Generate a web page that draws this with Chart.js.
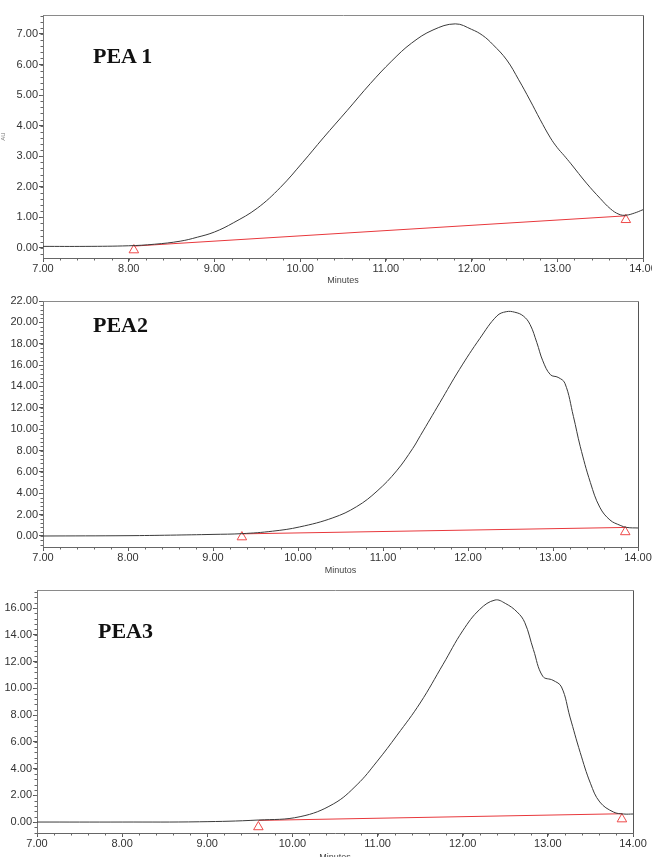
<!DOCTYPE html>
<html>
<head>
<meta charset="utf-8">
<script src="https://cdn.jsdelivr.net/npm/chart.js@4.4.1/dist/chart.umd.min.js"></script>
<style>
  html, body { margin:0; padding:0; background:#fff; width:652px; height:857px; overflow:hidden; }
  .panel { position:absolute; left:0; width:652px; }
  .ttl { position:absolute; font-family:"Liberation Serif","Times New Roman",serif; font-weight:bold; font-size:22px; color:#111; line-height:1; white-space:nowrap; }
</style>
</head>
<body>
<div class="panel" style="top:0;height:290px;"><canvas id="c1"></canvas></div>
<div class="panel" style="top:290px;height:290px;"><canvas id="c2"></canvas></div>
<div class="panel" style="top:580px;height:290px;"><canvas id="c3"></canvas></div>
<div class="ttl" style="left:93px;top:45px;">PEA 1</div>
<div class="ttl" style="left:93px;top:314px;">PEA2</div>
<div class="ttl" style="left:98px;top:620px;">PEA3</div>
<script>
// ---------- shared x axis ----------
const xTicks = [7, 8, 9, 10, 11, 12, 13, 14];

// ---------- PEA 1 ----------
const pea1Time   = [7.0, 7.5, 8.0, 8.3, 8.6, 8.8, 9.0, 9.22, 9.5, 9.77, 10.03, 10.27, 10.55, 10.82, 11.07, 11.3, 11.55, 11.81, 12.0, 12.13, 12.25, 12.41, 12.55, 12.68, 12.8, 12.92, 13.0, 13.08, 13.16, 13.34, 13.5, 13.62, 13.72, 13.8, 13.9, 14.0];
const pea1Signal = [0.05, 0.05, 0.07, 0.12, 0.22, 0.35, 0.52, 0.82, 1.3, 1.98, 2.8, 3.6, 4.5, 5.38, 6.12, 6.7, 7.13, 7.33, 7.15, 6.95, 6.65, 6.15, 5.5, 4.84, 4.2, 3.6, 3.28, 3.02, 2.75, 2.12, 1.62, 1.28, 1.1, 1.07, 1.14, 1.25];
const pea1BaseTime = [8.06, 13.8];
const pea1BaseVal  = [0.06, 1.05];
const pea1MarkVal  = [-0.07, 0.92];
const pea1YTicks = [0, 1, 2, 3, 4, 5, 6, 7];

// ---------- PEA 2 ----------
const pea2Time   = [7.0, 8.0, 8.5, 9.0, 9.34, 9.7, 10.02, 10.41, 10.69, 10.93, 11.16, 11.35, 11.44, 11.67, 11.9, 12.14, 12.34, 12.45, 12.55, 12.65, 12.73, 12.81, 12.88, 12.97, 13.06, 13.14, 13.24, 13.32, 13.44, 13.55, 13.67, 13.79, 13.87, 14.0];
const pea2Signal = [0.0, 0.03, 0.08, 0.15, 0.22, 0.45, 0.85, 1.7, 2.75, 4.2, 6.1, 8.2, 9.4, 12.5, 15.6, 18.5, 20.6, 21.0, 20.95, 20.6, 19.8, 18.1, 16.4, 15.1, 14.85, 14.3, 11.2, 8.4, 5.0, 2.7, 1.5, 1.0, 0.8, 0.75];
const pea2BaseTime = [9.34, 13.85];
const pea2BaseVal  = [0.2, 0.8];
const pea2MarkVal  = [-0.1, 0.38];
const pea2YTicks = [0, 2, 4, 6, 8, 10, 12, 14, 16, 18, 20, 22];

// ---------- PEA 3 ----------
const pea3Time   = [7.0, 8.0, 8.91, 9.6, 10.09, 10.48, 10.76, 10.99, 11.23, 11.5, 11.77, 12.0, 12.2, 12.38, 12.5, 12.64, 12.73, 12.83, 12.94, 13.06, 13.16, 13.26, 13.38, 13.5, 13.61, 13.77, 13.89, 14.0];
const pea3Signal = [0.0, 0.0, 0.02, 0.15, 0.4, 1.35, 2.8, 4.5, 6.5, 8.9, 11.8, 14.3, 15.9, 16.6, 16.35, 15.7, 14.9, 12.9, 10.9, 10.6, 10.1, 7.85, 5.2, 2.9, 1.5, 0.75, 0.6, 0.6];
const pea3BaseTime = [9.6, 13.87];
const pea3BaseVal  = [0.12, 0.62];
const pea3MarkVal  = [-0.37, 0.22];
const pea3YTicks = [0, 2, 4, 6, 8, 10, 12, 14, 16];

const pts = (xs, ys) => xs.map((x, i) => ({ x: x, y: ys[i] }));

const framePlugin = {
  id: 'frame',
  afterDraw(chart) {
    const { ctx, chartArea: a } = chart;
    ctx.save();
    ctx.lineWidth = 1;
    ctx.strokeStyle = '#8a8a8a';
    ctx.beginPath();
    ctx.moveTo(Math.round(a.left) + 0.5, Math.round(a.top) + 0.5);
    ctx.lineTo(Math.round(a.right) + 0.5, Math.round(a.top) + 0.5);
    ctx.stroke();
    ctx.strokeStyle = '#555';
    ctx.beginPath();
    ctx.moveTo(Math.round(a.right) + 0.5, Math.round(a.top) + 0.5);
    ctx.lineTo(Math.round(a.right) + 0.5, Math.round(a.bottom) + 0.5);
    ctx.stroke();
    ctx.restore();
  }
};

const minorPlugin = {
  id: 'minor',
  afterDraw(chart, args, o) {
    const { ctx, chartArea: a, scales: { x, y } } = chart;
    ctx.save();
    ctx.strokeStyle = '#666';
    ctx.lineWidth = 1;
    ctx.beginPath();
    for (let k = Math.ceil(x.min / o.xStep - 1e-9); k * o.xStep <= x.max + 1e-9; k++) {
      const v = k * o.xStep;
      const px = Math.round(x.getPixelForValue(v)) + 0.5;
      ctx.moveTo(px, a.bottom);
      ctx.lineTo(px, a.bottom + 2.5);
    }
    for (let k = Math.ceil(y.min / o.yStep - 1e-9); k * o.yStep <= y.max + 1e-9; k++) {
      const v = k * o.yStep;
      const py = Math.round(y.getPixelForValue(v)) + 0.5;
      ctx.moveTo(a.left - 2.5, py);
      ctx.lineTo(a.left, py);
    }
    ctx.stroke();
    ctx.restore();
  }
};

function makeChart(id, cfg) {
  const tickFont = { family: "'Liberation Sans', Arial, sans-serif", size: 11 };
  return new Chart(document.getElementById(id), {
    type: 'line',
    data: {
      datasets: [
        { data: pts(cfg.time, cfg.signal), borderColor: '#3a3a3a', borderWidth: 1, pointRadius: 0, tension: 0.4, fill: false },
        { data: pts(cfg.baseTime, cfg.baseVal), borderColor: '#e8383c', borderWidth: 1, pointRadius: 0, fill: false },
        { data: pts(cfg.baseTime, cfg.markVal), showLine: false, pointStyle: 'triangle', pointRadius: 5.5, pointBorderColor: '#ee4a4a', pointBackgroundColor: 'rgba(0,0,0,0)', pointBorderWidth: 1 }
      ]
    },
    options: {
      responsive: true,
      maintainAspectRatio: false,
      animation: false,
      events: [],
      layout: { padding: { top: cfg.padTop, right: cfg.padRight, left: 0, bottom: 0 } },
      plugins: { legend: { display: false }, tooltip: { enabled: false }, minor: { xStep: 0.2, yStep: cfg.yMinor } },
      scales: {
        x: {
          type: 'linear', min: 7, max: 14,
          afterBuildTicks: s => { s.ticks = xTicks.map(v => ({ value: v })); },
          afterFit: s => { s.height = cfg.xHeight; s.paddingLeft = 0; s.paddingRight = 0; },
          ticks: { callback: v => Number(v).toFixed(2), font: tickFont, color: '#333', padding: 0, maxRotation: 0, autoSkip: false },
          grid: { drawOnChartArea: false, drawTicks: true, tickLength: 4, color: '#555' },
          border: { color: '#666', width: 1 },
          title: { display: true, text: cfg.xTitle, font: { family: "'Liberation Sans', Arial, sans-serif", size: 9 }, color: '#444', padding: { top: 0, bottom: cfg.titlePad } }
        },
        y: {
          type: 'linear', min: cfg.yMin, max: cfg.yMax,
          afterBuildTicks: s => { s.ticks = cfg.yTicks.map(v => ({ value: v })); },
          afterFit: s => { s.width = cfg.yWidth; s.paddingTop = 0; s.paddingBottom = 0; },
          ticks: { callback: v => Number(v).toFixed(2), font: tickFont, color: '#333', padding: 1, autoSkip: false },
          grid: { drawOnChartArea: false, drawTicks: true, tickLength: 4, color: '#555' },
          border: { color: '#777', width: 1 },
          title: { display: !!cfg.yTitle, text: cfg.yTitle || '', font: { size: 6 }, color: '#777', padding: 0 }
        }
      }
    },
    plugins: [framePlugin, minorPlugin]
  });
}

makeChart('c1', { time: pea1Time, signal: pea1Signal, baseTime: pea1BaseTime, baseVal: pea1BaseVal, markVal: pea1MarkVal,
  yTicks: pea1YTicks, yMin: -0.33, yMax: 7.62, yMinor: 0.2, padTop: 15, padRight: 9, xHeight: 32, yWidth: 43, titlePad: 3.6, xTitle: 'Minutes', yTitle: 'AU' });
makeChart('c2', { time: pea2Time, signal: pea2Signal, baseTime: pea2BaseTime, baseVal: pea2BaseVal, markVal: pea2MarkVal,
  yTicks: pea2YTicks, yMin: -1.03, yMax: 22.0, yMinor: 0.4, padTop: 11, padRight: 14, xHeight: 33, yWidth: 43, titlePad: 3.6, xTitle: 'Minutos' });
makeChart('c3', { time: pea3Time, signal: pea3Signal, baseTime: pea3BaseTime, baseVal: pea3BaseVal, markVal: pea3MarkVal,
  yTicks: pea3YTicks, yMin: -0.82, yMax: 17.35, yMinor: 0.4, padTop: 10, padRight: 19, xHeight: 37, yWidth: 37, titlePad: 6.6, xTitle: 'Minutes' });
</script>
</body>
</html>
